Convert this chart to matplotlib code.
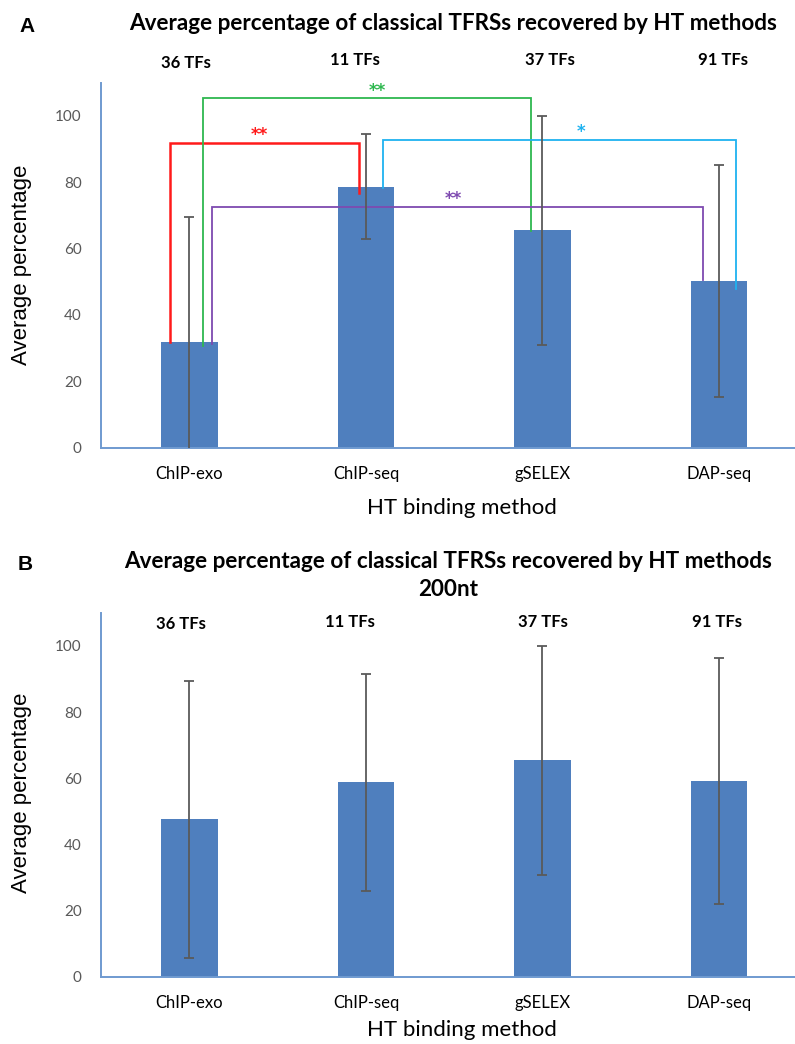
import matplotlib
matplotlib.use("Agg")
import matplotlib.pyplot as plt

# data
methods = ["ChIP-exo", "ChIP-seq", "gSELEX", "DAP-seq"]
tf_counts = ["36 TFs", "11 TFs", "37 TFs", "91 TFs"]

avg_a = [31.8, 78.7, 65.5, 50.2]
err_a = [37.8, 15.8, 34.6, 35.0]

avg_b = [47.6, 58.8, 65.4, 59.1]
err_b = [41.8, 32.8, 34.5, 37.2]

# significance brackets in panel A: (left bar, right bar)
pair_left = [0, 0, 1, 0]
pair_right = [1, 2, 3, 3]
bracket_top = [91.8, 105.3, 92.8, 72.5]
leg_left_end = [31.8, 30.6, 78.2, 31.3]
leg_right_end = [76.7, 65.4, 47.7, 50.5]
stars = ["**", "**", "*", "**"]

title = "Average percentage of classical TFRSs recovered by HT methods"

# styling
BAR = "#4F7FBE"
SPINE = "#6F9AD0"
ERR = "#5A5A5A"
bracket_colors = ["#FF1A1A", "#2EB84F", "#1FB2F0", "#7E4AB0"]
bracket_lw = [1.8, 1.3, 1.3, 1.3]
dx_left = [-0.11, 0.077, 0.098, 0.126]
dx_right = [-0.041, -0.067, 0.095, -0.091]
star_dx = [-0.03, 0.06, 0.12, -0.02]

W, H = 795, 1044
fig = plt.figure(figsize=(W / 100, H / 100), dpi=100)


def fx(px):
    return px / W


def fy(py):
    return 1 - py / H


def setup_axes(top_px, bottom_px):
    ax = fig.add_axes([fx(101), fy(bottom_px), 1 - fx(101),
                       (bottom_px - top_px) / H])
    ax.set_xlim(-0.5, 3.43)
    ax.set_ylim(0, 110)
    for s in ["top", "right"]:
        ax.spines[s].set_visible(False)
    for s in ["left", "bottom"]:
        ax.spines[s].set_color(SPINE)
        ax.spines[s].set_linewidth(1.4)
    ax.set_yticks([0, 20, 40, 60, 80, 100])
    ax.tick_params(axis="both", length=0)
    ax.tick_params(axis="y", pad=14, labelcolor="#595959", labelsize=11)
    ax.tick_params(axis="x", pad=13, labelcolor="black", labelsize=12)
    ax.set_xticks(range(len(methods)))
    ax.set_xticklabels(methods, family="Lato")
    for lab in ax.get_yticklabels():
        lab.set_family("Lato")
    return ax


def draw_bars(ax, vals, errs):
    x = list(range(len(vals)))
    ax.bar(x, vals, width=0.32, color=BAR, zorder=2)
    ax.errorbar(x, vals, yerr=errs, fmt="none", ecolor=ERR, elinewidth=1.3,
                capsize=3.3, capthick=1.3, zorder=4)


# ---- panel A ----
axA = setup_axes(82.7, 447.5)
draw_bars(axA, avg_a, err_a)

for i in range(len(stars)):
    xl = pair_left[i] + dx_left[i]
    xr = pair_right[i] + dx_right[i]
    h = bracket_top[i]
    axA.plot([xl, xl, xr, xr], [leg_left_end[i], h, h, leg_right_end[i]],
             color=bracket_colors[i], lw=bracket_lw[i], zorder=3,
             solid_joinstyle="miter")
    axA.text((xl + xr) / 2 + star_dx[i], h + 2.3, stars[i],
             color=bracket_colors[i], ha="center", va="center",
             fontsize=12, fontweight="bold", family="DejaVu Sans")

tf_dx_a = [-0.02, -0.06, 0.04, 0.02]
tf_y_a = [115.9, 116.9, 116.9, 116.9]
for i, t in enumerate(tf_counts):
    axA.text(i + tf_dx_a[i], tf_y_a[i], t, ha="center", va="center",
             fontsize=12, fontweight="bold", family="Lato", clip_on=False)

fig.text(fx(453), fy(23), title, ha="center", va="center", fontsize=16.2,
         fontweight="bold", family="Lato")
fig.text(fx(27), fy(26), "A", ha="center", va="center", fontsize=15,
         fontweight="bold", family="Liberation Sans")
fig.text(fx(22), fy(265), "Average percentage", rotation=90, ha="center",
         va="center", fontsize=16, family="Liberation Sans")
fig.text(fx(462), fy(508), "HT binding method", ha="center", va="center",
         fontsize=16, family="Lato")

# ---- panel B ----
axB = setup_axes(612.7, 977)
draw_bars(axB, avg_b, err_b)

tf_dx_b = [-0.05, -0.09, 0.0, -0.01]
for i, t in enumerate(tf_counts):
    axB.text(i + tf_dx_b[i], 107.2 - (0.7 if i == 0 else 0), t, ha="center",
             va="center", fontsize=12, fontweight="bold", family="Lato")

fig.text(fx(448), fy(561), title, ha="center", va="center", fontsize=16.2,
         fontweight="bold", family="Lato")
fig.text(fx(448), fy(590), "200nt", ha="center", va="center", fontsize=16.2,
         fontweight="bold", family="Lato")
fig.text(fx(25), fy(565), "B", ha="center", va="center", fontsize=15,
         fontweight="bold", family="Liberation Sans")
fig.text(fx(22), fy(793), "Average percentage", rotation=90, ha="center",
         va="center", fontsize=16, family="Liberation Sans")
fig.text(fx(462), fy(1030), "HT binding method", ha="center", va="center",
         fontsize=16, family="Lato")

fig.savefig("out.png", dpi=100)
